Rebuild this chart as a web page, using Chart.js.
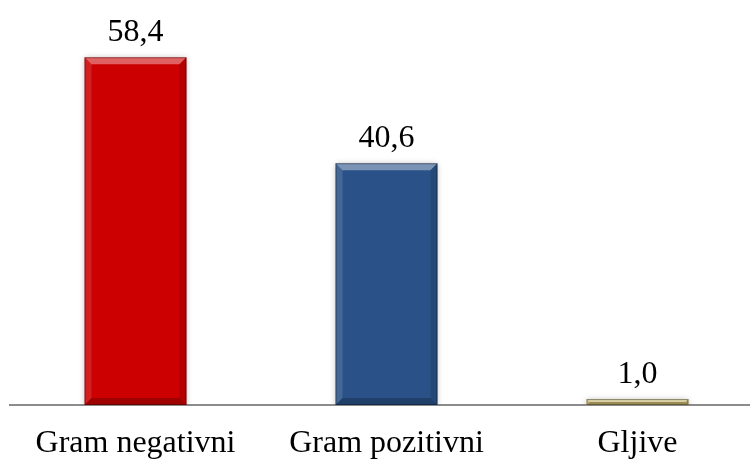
<!DOCTYPE html>
<html>
<head>
<meta charset="utf-8">
<script src="https://cdn.jsdelivr.net/npm/chart.js@4.4.1/dist/chart.umd.min.js"></script>
<style>
  html, body { margin: 0; padding: 0; background: #ffffff; overflow: hidden; }
  #wrap { width: 750px; height: 459px; position: relative; overflow: hidden; }
  #c { display: block; }
</style>
</head>
<body>
<div id="wrap"><canvas id="c" width="763" height="459"></canvas></div>
<script>
const categories = ["Gram negativni", "Gram pozitivni", "Gljive"];
const values = [58.4, 40.6, 1.0];
const barColors = ["#CC0000", "#2A5288", "#C4B46C"];

const FONT = '"Liberation Serif", "Times New Roman", serif';

const bevelPlugin = {
  id: 'bevel',
  beforeDatasetDraw(chart) {
    const ctx = chart.ctx;
    ctx.save();
    ctx.shadowColor = 'rgba(0,0,0,0.28)';
    ctx.shadowBlur = 6;
    ctx.shadowOffsetX = 0;
    ctx.shadowOffsetY = 1;
  },
  afterDatasetDraw(chart) {
    const ctx = chart.ctx;
    ctx.restore();
    const meta = chart.getDatasetMeta(0);
    meta.data.forEach((bar) => {
      const p = bar.getProps(['x', 'y', 'base', 'width'], true);
      const l = p.x - p.width / 2, r = p.x + p.width / 2;
      const t = Math.min(p.y, p.base), b = Math.max(p.y, p.base);
      const h = b - t;
      const s = Math.min(7, h / 2, p.width / 2);
      ctx.save();
      ctx.beginPath();
      ctx.moveTo(l, t); ctx.lineTo(r, t); ctx.lineTo(r - s, t + s); ctx.lineTo(l + s, t + s); ctx.closePath();
      ctx.fillStyle = 'rgba(255,255,255,0.38)'; ctx.fill();
      ctx.beginPath();
      ctx.moveTo(l, t); ctx.lineTo(l + s, t + s); ctx.lineTo(l + s, b - s); ctx.lineTo(l, b); ctx.closePath();
      ctx.fillStyle = 'rgba(255,255,255,0.12)'; ctx.fill();
      ctx.beginPath();
      ctx.moveTo(r, t); ctx.lineTo(r - s, t + s); ctx.lineTo(r - s, b - s); ctx.lineTo(r, b); ctx.closePath();
      ctx.fillStyle = 'rgba(0,0,0,0.12)'; ctx.fill();
      ctx.beginPath();
      ctx.moveTo(l, b); ctx.lineTo(r, b); ctx.lineTo(r - s, b - s); ctx.lineTo(l + s, b - s); ctx.closePath();
      ctx.fillStyle = 'rgba(0,0,0,0.22)'; ctx.fill();
      ctx.strokeStyle = 'rgba(0,0,0,0.35)';
      ctx.lineWidth = 1;
      ctx.strokeRect(l + 0.5, t + 0.5, p.width - 1, h - 1);
      ctx.restore();
    });
  }
};

const labelPlugin = {
  id: 'valueLabels',
  afterDatasetsDraw(chart) {
    const ctx = chart.ctx;
    const meta = chart.getDatasetMeta(0);
    ctx.save();
    ctx.font = '32px ' + FONT;
    ctx.fillStyle = '#000000';
    ctx.textAlign = 'center';
    ctx.textBaseline = 'alphabetic';
    meta.data.forEach((bar, i) => {
      const txt = values[i].toFixed(1).replace('.', ',');
      ctx.fillText(txt, bar.x, bar.y - 16);
    });
    ctx.restore();
  }
};

new Chart(document.getElementById('c'), {
  type: 'bar',
  data: {
    labels: categories,
    datasets: [{
      data: values,
      backgroundColor: barColors,
      borderWidth: 0,
      barPercentage: 0.406,
      categoryPercentage: 1.0
    }]
  },
  options: {
    responsive: false,
    animation: false,
    devicePixelRatio: 1,
    layout: { padding: { top: 18, left: 10, right: 0, bottom: 0 } },
    plugins: { legend: { display: false }, tooltip: { enabled: false } },
    scales: {
      x: {
        grid: { display: false, drawTicks: false },
        border: { display: true, color: '#8C8C8C', width: 2 },
        ticks: { color: '#000000', font: { family: FONT, size: 32 }, padding: 19, maxRotation: 0 },
        afterFit(scale) { scale.height = 54; }
      },
      y: {
        display: false,
        min: 0,
        max: 65
      }
    }
  },
  plugins: [bevelPlugin, labelPlugin]
});
</script>
</body>
</html>
